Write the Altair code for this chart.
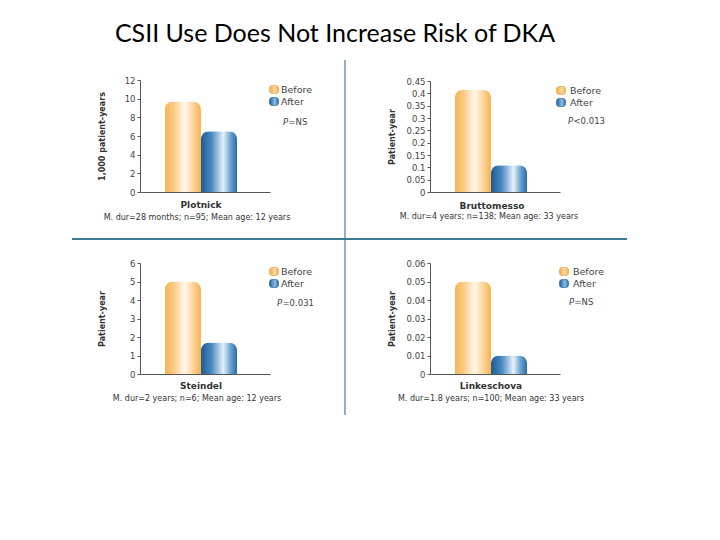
import altair as alt
import pandas as pd

# ---------------- data ----------------
studies = ["Plotnick", "Bruttomesso", "Steindel", "Linkeschova"]
details = [
    "M. dur=28 months; n=95; Mean age: 12 years",
    "M. dur=4 years; n=138; Mean age: 33 years",
    "M. dur=2 years; n=6; Mean age: 12 years",
    "M. dur=1.8 years; n=100; Mean age: 33 years",
]
y_titles = ["1,000 patient-years", "Patient-year", "Patient-year", "Patient-year"]
phases = ["Before", "After"]
before_vals = [9.7, 0.415, 5.0, 0.05]
after_vals = [6.5, 0.108, 1.7, 0.01]
y_max = [12, 0.45, 6, 0.06]
y_ticks = [
    [0, 2, 4, 6, 8, 10, 12],
    [0, 0.05, 0.1, 0.15, 0.2, 0.25, 0.3, 0.35, 0.4, 0.45],
    [0, 1, 2, 3, 4, 5, 6],
    [0, 0.01, 0.02, 0.03, 0.04, 0.05, 0.06],
]
p_rest = ["=NS", "<0.013", "=0.031", "=NS"]
title_text = "CSII Use Does Not Increase Risk of DKA"

# ---------------- layout / style ----------------
W, H = 704, 524
FONT = "DejaVu Sans"
TFONT = "Lato"
panel_x = [(132, 262), (422, 552), (132, 262), (422, 552)]
panel_y = [(184, 72), (184, 73), (366, 255), (366, 255)]
# swatch cx, before-row y, after-row y, label x, p x, p y
legend_pos = [
    (266, 81.5, 93.5, 273, 275, 114),
    (553, 82.5, 94.5, 562, 560, 113),
    (266, 263.5, 275.5, 273, 269, 295),
    (556, 263.5, 275.5, 565, 561, 294),
]
# name cx, name y, detail cx, detail y
caption_pos = [
    (193, 197, 189, 209.5),
    (484, 198, 481, 209),
    (193, 378, 189, 390.5),
    (483, 378, 483, 390.5),
]

orange = alt.LinearGradient(
    gradient="linear", x1=0, x2=1, y1=0, y2=0,
    stops=[
        alt.GradientStop(color="#f8b450", offset=0),
        alt.GradientStop(color="#fbcb85", offset=0.25),
        alt.GradientStop(color="#fff7ec", offset=0.55),
        alt.GradientStop(color="#fcd69b", offset=0.78),
        alt.GradientStop(color="#f6b04f", offset=1),
    ],
)
blue = alt.LinearGradient(
    gradient="linear", x1=0, x2=1, y1=0, y2=0,
    stops=[
        alt.GradientStop(color="#1d5a94", offset=0),
        alt.GradientStop(color="#4a8bc3", offset=0.3),
        alt.GradientStop(color="#e6f1f9", offset=0.62),
        alt.GradientStop(color="#6aa3d2", offset=0.82),
        alt.GradientStop(color="#2b6aa6", offset=1),
    ],
)
orange_sw = alt.LinearGradient(
    gradient="linear", x1=0, x2=1, y1=0, y2=0,
    stops=[
        alt.GradientStop(color="#f4ae48", offset=0),
        alt.GradientStop(color="#fbd9a4", offset=0.6),
        alt.GradientStop(color="#f4ae48", offset=1),
    ],
)
blue_sw = alt.LinearGradient(
    gradient="linear", x1=0, x2=1, y1=0, y2=0,
    stops=[
        alt.GradientStop(color="#1f5e9a", offset=0),
        alt.GradientStop(color="#8dbde3", offset=0.6),
        alt.GradientStop(color="#2a69a5", offset=1),
    ],
)

one = pd.DataFrame({"k": [0]})


def txt(text, x, y, size, weight="normal", style="normal", align="center",
        color="#333333", font=FONT):
    return alt.Chart(one).mark_text(
        text=text, fontSize=size, fontWeight=weight, fontStyle=style,
        align=align, baseline="middle", color=color, font=font,
    ).encode(x=alt.value(x), y=alt.value(y))


def swatch(cx, cy, grad, stroke):
    return alt.Chart(one).mark_rect(
        fill=grad, cornerRadius=2.5, stroke=stroke, strokeWidth=0.6
    ).encode(x=alt.value(cx - 4.5), x2=alt.value(cx + 4.5),
             y=alt.value(cy - 4), y2=alt.value(cy + 4))


def panel(i):
    df = pd.DataFrame({"phase": phases, "value": [before_vals[i], after_vals[i]]})
    x0, x1 = panel_x[i]
    yb, yt = panel_y[i]
    xenc = alt.X(
        "phase:N",
        scale=alt.Scale(domain=phases, range=[x0, x1], paddingInner=0,
                        paddingOuter=0.8, align=0.43),
        axis=alt.Axis(orient="bottom", offset=-(H - yb), labels=False,
                      ticks=False, title=None, domainColor="#555555",
                      domainWidth=1),
    )
    yenc = alt.Y(
        "value:Q",
        scale=alt.Scale(domain=[0, y_max[i]], range=[yb, yt], nice=False),
        axis=alt.Axis(
            orient="left", offset=-x0, values=y_ticks[i], format="~g",
            grid=False, tickSize=3, tickColor="#555555", domainColor="#555555",
            labelFont=FONT, labelFontSize=8.5, labelColor="#444444",
            labelPadding=2,
            title=y_titles[i], titleFont=FONT, titleFontSize=8,
            titleFontWeight="bold", titleColor="#333333",
            titleX=-38, titleY=(yb + yt) / 2, titleAngle=270,
            titleBaseline="middle", titleAlign="center",
        ),
    )
    base = alt.Chart(df).encode(x=xenc, y=yenc)
    b = base.transform_filter(alt.datum.phase == "Before").mark_bar(
        color=orange, cornerRadiusTopLeft=8, cornerRadiusTopRight=8)
    a = base.transform_filter(alt.datum.phase == "After").mark_bar(
        color=blue, cornerRadiusTopLeft=8, cornerRadiusTopRight=8)
    return alt.layer(b, a)


layers = [panel(i) for i in range(4)]

annots = []
for i in range(4):
    cx, yB, yA, lx, px, py = legend_pos[i]
    annots += [
        swatch(cx, yB, orange_sw, "#e29a35"),
        swatch(cx, yA, blue_sw, "#1d5a94"),
        txt(phases[0], lx, yB, 9.5, align="left", color="#444444"),
        txt(phases[1], lx, yA, 9.5, align="left", color="#444444"),
        txt("P", px, py, 8.5, style="italic", align="left", color="#444444"),
        txt(p_rest[i], px + 5.5, py, 8.5, align="left", color="#444444"),
    ]
    ncx, ny, dcx, dy = caption_pos[i]
    annots += [
        txt(studies[i], ncx, ny, 9, weight="bold", color="#333333"),
        txt(details[i], dcx, dy, 8, color="#333333"),
    ]

# divider cross
vline = alt.Chart(one).mark_rule(color="#8cb2c9", strokeWidth=2).encode(
    x=alt.value(337), y=alt.value(52), y2=alt.value(407))
hline = alt.Chart(one).mark_rule(color="#3f7a93", strokeWidth=2).encode(
    y=alt.value(231), x=alt.value(64), x2=alt.value(619))

title = txt(title_text, 327, 26, 25, color="#000000", font=TFONT)

chart = (
    alt.layer(*layers, vline, hline, title, *annots)
    .resolve_scale(x="independent", y="independent")
    .properties(width=W, height=H, autosize=alt.AutoSizeParams(type="none"),
                padding=0)
    .configure_view(stroke=None)
)

chart.save("out.html", embed_options={"renderer": "svg", "actions": False})
